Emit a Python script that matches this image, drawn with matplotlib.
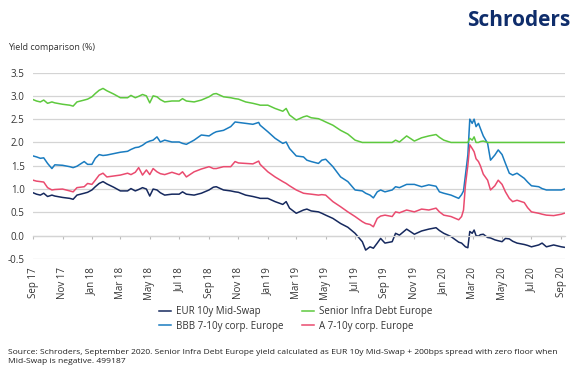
import pandas as pd
import numpy as np
import matplotlib
matplotlib.use('Agg')
import matplotlib.pyplot as plt
import matplotlib.dates as mdates

plt.rcParams['font.family'] = ['Open Sans', 'DejaVu Sans']

# Values (semi-monthly, extra points around moves)
dates = ['2017-09-01', '2017-09-08', '2017-09-16', '2017-09-23', '2017-10-01', '2017-10-10',
         '2017-10-16', '2017-11-01', '2017-11-16', '2017-11-23', '2017-12-01', '2017-12-16',
         '2017-12-23', '2018-01-01', '2018-01-08', '2018-01-16', '2018-01-24', '2018-02-01',
         '2018-02-15', '2018-03-01', '2018-03-16', '2018-03-23', '2018-04-01', '2018-04-08',
         '2018-04-16', '2018-04-24', '2018-05-01', '2018-05-08', '2018-05-16', '2018-05-23',
         '2018-06-01', '2018-06-16', '2018-07-01', '2018-07-08', '2018-07-16', '2018-08-01',
         '2018-08-16', '2018-09-01', '2018-09-10', '2018-09-16', '2018-10-01', '2018-10-16',
         '2018-10-25', '2018-11-01', '2018-11-16', '2018-12-01', '2018-12-13', '2018-12-16',
         '2019-01-01', '2019-01-16', '2019-02-01', '2019-02-08', '2019-02-15', '2019-03-01',
         '2019-03-16', '2019-03-23', '2019-04-01', '2019-04-16', '2019-04-23', '2019-05-01',
         '2019-05-16', '2019-06-01', '2019-06-16', '2019-07-01', '2019-07-16', '2019-07-23',
         '2019-08-01', '2019-08-08', '2019-08-16', '2019-08-23', '2019-09-01', '2019-09-16',
         '2019-09-23', '2019-10-01', '2019-10-16', '2019-11-01', '2019-11-16', '2019-12-01',
         '2019-12-16', '2019-12-23', '2020-01-01', '2020-01-16', '2020-02-01', '2020-02-07',
         '2020-02-11', '2020-02-15', '2020-02-20', '2020-02-24', '2020-02-29', '2020-03-04',
         '2020-03-08', '2020-03-13', '2020-03-17', '2020-03-23', '2020-04-01', '2020-04-07',
         '2020-04-16', '2020-04-23', '2020-05-01', '2020-05-08', '2020-05-16', '2020-05-23',
         '2020-06-01', '2020-06-16', '2020-06-23', '2020-07-01', '2020-07-16', '2020-07-23',
         '2020-08-01', '2020-08-16', '2020-09-01', '2020-09-07']

eur_swap = [0.92, 0.89, 0.87, 0.91, 0.84, 0.87, 0.85, 0.82, 0.80, 0.78, 0.87, 0.91,
            0.93, 0.98, 1.05, 1.12, 1.16, 1.11, 1.04, 0.96, 0.96, 1.01, 0.96, 0.99,
            1.03, 1.00, 0.85, 1.00, 0.98, 0.92, 0.87, 0.89, 0.89, 0.94, 0.89, 0.87,
            0.91, 0.98, 1.04, 1.05, 0.98, 0.96, 0.94, 0.93, 0.87, 0.84, 0.81, 0.80,
            0.80, 0.73, 0.67, 0.73, 0.59, 0.48, 0.55, 0.57, 0.53, 0.51, 0.48, 0.44,
            0.37, 0.26, 0.18, 0.05, -0.13, -0.31, -0.24, -0.27, -0.16, -0.06, -0.16, -0.13,
            0.05, 0.01, 0.14, 0.03, 0.10, 0.14, 0.17, 0.11, 0.05, -0.02, -0.14, -0.16,
            -0.20, -0.24, -0.26, 0.09, 0.05, 0.12, 0.00, -0.01, 0.02, 0.03, -0.04, -0.05,
            -0.09, -0.11, -0.13, -0.06, -0.07, -0.12, -0.16, -0.19, -0.21, -0.24, -0.20, -0.16,
            -0.24, -0.20, -0.24, -0.25]

infra_debt = [2.92, 2.89, 2.87, 2.91, 2.84, 2.87, 2.85, 2.82, 2.80, 2.78, 2.87, 2.91,
              2.93, 2.98, 3.05, 3.12, 3.16, 3.11, 3.04, 2.96, 2.96, 3.01, 2.96, 2.99,
              3.03, 3.00, 2.85, 3.00, 2.98, 2.92, 2.87, 2.89, 2.89, 2.94, 2.89, 2.87,
              2.91, 2.98, 3.04, 3.05, 2.98, 2.96, 2.94, 2.93, 2.87, 2.84, 2.81, 2.80,
              2.80, 2.73, 2.67, 2.73, 2.59, 2.48, 2.55, 2.57, 2.53, 2.51, 2.48, 2.44,
              2.37, 2.26, 2.18, 2.05, 2.00, 2.00, 2.00, 2.00, 2.00, 2.00, 2.00, 2.00,
              2.05, 2.01, 2.14, 2.03, 2.10, 2.14, 2.17, 2.11, 2.05, 2.00, 2.00, 2.00,
              2.00, 2.00, 2.00, 2.09, 2.05, 2.12, 2.00, 2.00, 2.02, 2.03, 2.00, 2.00,
              2.00, 2.00, 2.00, 2.00, 2.00, 2.00, 2.00, 2.00, 2.00, 2.00, 2.00, 2.00,
              2.00, 2.00, 2.00, 2.00]

bbb_corp = [1.71, 1.69, 1.66, 1.67, 1.55, 1.44, 1.52, 1.51, 1.48, 1.46, 1.49, 1.59,
            1.53, 1.53, 1.66, 1.74, 1.72, 1.73, 1.76, 1.79, 1.81, 1.85, 1.89, 1.90,
            1.94, 2.00, 2.03, 2.05, 2.12, 2.01, 2.05, 2.01, 2.01, 1.98, 1.96, 2.05,
            2.16, 2.14, 2.20, 2.23, 2.26, 2.34, 2.44, 2.43, 2.41, 2.39, 2.43, 2.37,
            2.23, 2.09, 1.98, 2.01, 1.87, 1.71, 1.69, 1.62, 1.59, 1.55, 1.62, 1.64,
            1.48, 1.26, 1.16, 0.98, 0.96, 0.91, 0.87, 0.81, 0.94, 0.98, 0.94, 0.98,
            1.05, 1.03, 1.10, 1.10, 1.05, 1.09, 1.06, 0.94, 0.91, 0.87, 0.80, 0.88,
            0.96, 1.30, 1.73, 2.50, 2.41, 2.50, 2.34, 2.41, 2.30, 2.14, 1.98, 1.62,
            1.73, 1.84, 1.74, 1.55, 1.34, 1.30, 1.34, 1.23, 1.15, 1.07, 1.05, 1.01,
            0.98, 0.98, 0.98, 1.00]

a_corp = [1.19, 1.17, 1.16, 1.15, 1.03, 0.98, 0.99, 1.00, 0.96, 0.94, 1.03, 1.05,
          1.12, 1.10, 1.19, 1.30, 1.34, 1.26, 1.28, 1.30, 1.34, 1.31, 1.36, 1.46,
          1.30, 1.41, 1.31, 1.44, 1.37, 1.33, 1.31, 1.36, 1.31, 1.37, 1.26, 1.37,
          1.43, 1.48, 1.44, 1.44, 1.48, 1.48, 1.59, 1.56, 1.55, 1.54, 1.60, 1.53,
          1.37, 1.26, 1.16, 1.12, 1.07, 0.98, 0.91, 0.90, 0.89, 0.87, 0.88, 0.87,
          0.73, 0.62, 0.51, 0.41, 0.30, 0.26, 0.24, 0.19, 0.37, 0.42, 0.44, 0.41,
          0.51, 0.49, 0.55, 0.51, 0.57, 0.55, 0.59, 0.51, 0.44, 0.41, 0.34, 0.41,
          0.55, 1.09, 1.51, 1.95, 1.87, 1.80, 1.65, 1.59, 1.50, 1.32, 1.19, 0.98,
          1.07, 1.19, 1.10, 0.94, 0.80, 0.73, 0.76, 0.71, 0.60, 0.51, 0.48, 0.46,
          0.44, 0.43, 0.46, 0.48]

series_labels = ['EUR 10y Mid-Swap', 'BBB 7-10y corp. Europe',
                 'Senior Infra Debt Europe', 'A 7-10y corp. Europe']
ytick_vals = [-0.5, 0.0, 0.5, 1.0, 1.5, 2.0, 2.5, 3.0, 3.5]
ytick_labels = ['-0.5', '0.0', '0.5', '1.0', '1.5', '2.0', '2.5', '3.0', '3.5']
colors = ['#16295e', '#1a7cc0', '#5ec93e', '#ea4b6f']

df = pd.DataFrame({'date': pd.to_datetime(dates), 'eur': eur_swap, 'bbb': bbb_corp,
                   'infra': infra_debt, 'a': a_corp})

fig = plt.figure(figsize=(5.81, 3.78), dpi=100)
ax = fig.add_axes([0.057, 0.315, 0.915, 0.493])

text_col = '#333333'
grid_col = '#d4d4d4'

lines = []
for col, c in zip(['eur', 'bbb', 'infra', 'a'], colors):
    ln, = ax.plot(df['date'], df[col], color=c, lw=1.1)
    lines.append(ln)

ax.set_ylim(-0.5, 3.5)
ax.set_yticks(ytick_vals, labels=ytick_labels)
ax.set_xlim(pd.Timestamp('2017-09-01'), pd.Timestamp('2020-09-08'))
ticks = pd.date_range('2017-09-01', '2020-09-01', freq='2MS')
ax.set_xticks(ticks)
ax.xaxis.set_major_formatter(mdates.DateFormatter('%b %y'))
ax.grid(axis='y', color=grid_col, lw=0.9)
ax.set_axisbelow(True)
for s in ax.spines.values():
    s.set_visible(False)

# x axis line sits on the zero line (Excel style), labels pushed below -0.5
ax.spines['bottom'].set_visible(True)
ax.spines['bottom'].set_position(('data', 0))
ax.spines['bottom'].set_color(grid_col)
ax.spines['bottom'].set_linewidth(0.9)
ax.tick_params(axis='x', length=2.5, color='#bbbbbb', direction='out', rotation=90,
               labelsize=7, labelcolor=text_col, pad=20)
ax.tick_params(axis='y', length=0, labelsize=7, labelcolor=text_col, pad=6)

fig.text(0.014, 0.875, 'Yield comparison (%)', fontsize=6.5, color=text_col, va='center')
fig.text(0.981, 0.945, 'Schroders', fontsize=15, fontweight='bold', color='#0f2d6b',
         ha='right', va='center')

fig.legend([lines[0], lines[1], lines[2], lines[3]], series_labels, ncol=2,
           loc='upper left', bbox_to_anchor=(0.258, 0.213), frameon=False,
           fontsize=7, handlelength=1.3, handletextpad=0.45, columnspacing=1.9,
           labelspacing=0.35, labelcolor=text_col)

fig.text(0.014, 0.055, 'Source: Schroders, September 2020. Senior Infra Debt Europe yield calculated as '
         'EUR 10y Mid-Swap + 200bps spread with zero floor when\nMid-Swap is negative. 499187',
         fontsize=6.1, color='#222222', va='center', linespacing=1.35)

fig.savefig('out.png', dpi=100)
